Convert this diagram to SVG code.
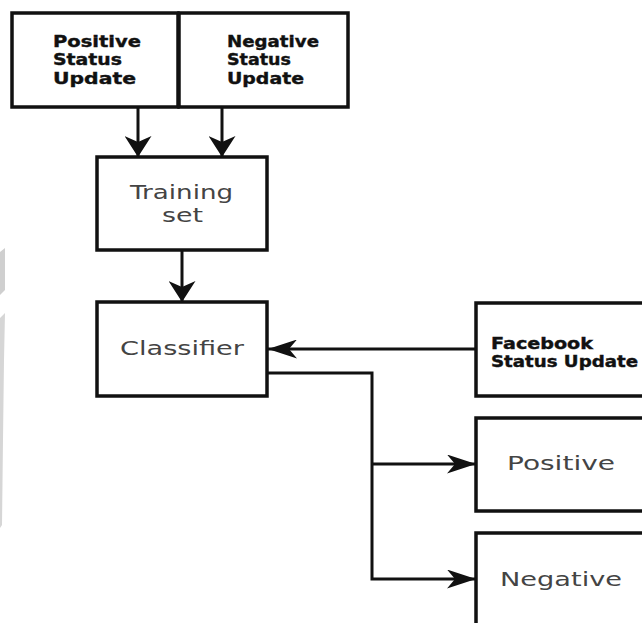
<svg xmlns="http://www.w3.org/2000/svg" width="642" height="623" viewBox="0 0 642 623">
<style>
.box{fill:#fff;stroke:#111;stroke-width:3.5}
.bold{font-family:"DejaVu Sans",sans-serif;font-weight:bold;font-size:16.5px;fill:#111;stroke:#111;stroke-width:0.4}
.reg{font-family:"DejaVu Sans",sans-serif;font-size:19.5px;fill:#444}
.conn{fill:none;stroke:#111;stroke-width:3}
</style>
<defs>
<marker id="av" viewBox="0 0 21 27" refX="21" refY="13.5" markerWidth="21" markerHeight="27" markerUnits="userSpaceOnUse" orient="auto">
<path d="M0,0 L21,13.5 L0,27 L6,13.5 Z" fill="#111"/>
</marker>
<marker id="ahz" viewBox="0 0 29 19" refX="29" refY="9.5" markerWidth="29" markerHeight="19" markerUnits="userSpaceOnUse" orient="auto">
<path d="M0,0 L29,9.5 L0,19 L8,9.5 Z" fill="#111"/>
</marker>
</defs>
<rect width="642" height="623" fill="#fff"/>
<polygon points="0,252 5,248 5,290 0,295" fill="#cfcfcf"/>
<polygon points="0,318 5,313 4,360 3,440 2,525 0,528" fill="#d6d6d6"/>
<g id="connectors">
<line class="conn" x1="138" y1="107" x2="138" y2="157" marker-end="url(#av)"/>
<line class="conn" x1="222" y1="107" x2="222" y2="157" marker-end="url(#av)"/>
<line class="conn" x1="182" y1="250" x2="182" y2="302" marker-end="url(#av)"/>
<line class="conn" x1="476" y1="349" x2="268" y2="349" marker-end="url(#ahz)"/>
<polyline class="conn" points="267,373 372,373 372,579 476,579" marker-end="url(#ahz)"/>
<line class="conn" x1="372" y1="464" x2="476" y2="464" marker-end="url(#ahz)"/>
</g>
<g id="positive-status">
<rect class="box" x="12" y="13" width="166" height="94"/>
<text class="bold" x="53" y="47" textLength="88" lengthAdjust="spacingAndGlyphs">Positive</text>
<text class="bold" x="53" y="65" textLength="69" lengthAdjust="spacingAndGlyphs">Status</text>
<text class="bold" x="53" y="84" textLength="83" lengthAdjust="spacingAndGlyphs">Update</text>
</g>
<g id="negative-status">
<rect class="box" x="179" y="13" width="169" height="94"/>
<text class="bold" x="227" y="47" textLength="92" lengthAdjust="spacingAndGlyphs">Negative</text>
<text class="bold" x="227" y="65" textLength="64" lengthAdjust="spacingAndGlyphs">Status</text>
<text class="bold" x="227" y="84" textLength="77" lengthAdjust="spacingAndGlyphs">Update</text>
</g>
<g id="training-set">
<rect class="box" x="97" y="157" width="170" height="93"/>
<text class="reg" x="130" y="199" textLength="103" lengthAdjust="spacingAndGlyphs">Training</text>
<text class="reg" x="162" y="222" textLength="41" lengthAdjust="spacingAndGlyphs">set</text>
</g>
<g id="classifier">
<rect class="box" x="97" y="302" width="170" height="94"/>
<text class="reg" x="120" y="355" textLength="124" lengthAdjust="spacingAndGlyphs">Classifier</text>
</g>
<g id="facebook">
<rect class="box" x="476" y="303" width="180" height="93"/>
<text class="bold" x="491" y="349" style="font-size:15.5px" textLength="102" lengthAdjust="spacingAndGlyphs">Facebook</text>
<text class="bold" x="491" y="367" style="font-size:15.5px" textLength="147" lengthAdjust="spacingAndGlyphs">Status Update</text>
</g>
<g id="positive">
<rect class="box" x="476" y="418" width="180" height="93"/>
<text class="reg" x="507" y="470" textLength="108" lengthAdjust="spacingAndGlyphs">Positive</text>
</g>
<g id="negative">
<rect class="box" x="476" y="533" width="180" height="110"/>
<text class="reg" x="500" y="586" textLength="122" lengthAdjust="spacingAndGlyphs">Negative</text>
</g>
</svg>
